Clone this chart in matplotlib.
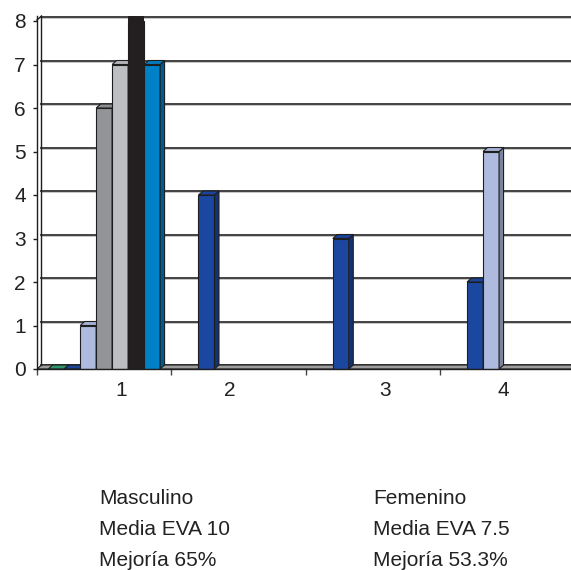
import numpy as np
import matplotlib; matplotlib.use("Agg")
import matplotlib.pyplot as plt
from matplotlib.colors import to_rgb

plt.rcParams["font.family"] = ["Liberation Sans", "DejaVu Sans"]

# data: 4 categories, 7 series (nan = no bar, 0 = flat bar drawn)
CATEGORIES = ["1", "2", "3", "4"]
S_GREEN     = [0, np.nan, np.nan, np.nan]
S_DARKBLUE  = [0, 4, 3, 2]
S_LIGHTBLUE = [1, np.nan, np.nan, 5]
S_GRAY      = [6, np.nan, np.nan, np.nan]
S_LIGHTGRAY = [7, np.nan, np.nan, np.nan]
S_BLACK     = [8, np.nan, np.nan, np.nan]
S_BLUE      = [7, np.nan, np.nan, np.nan]
SERIES = [S_GREEN, S_DARKBLUE, S_LIGHTBLUE, S_GRAY, S_LIGHTGRAY, S_BLACK, S_BLUE]
COLORS = ["#2f9e72", "#1c47a0", "#aebbdf", "#939498", "#bdbec2", "#231f20", "#0080c6"]
YTICKS = list(range(9))
LEFT_TXT = ["Masculino", "Media EVA 10", "Mejoría 65%"]
RIGHT_TXT = ["Femenino", "Media EVA 7.5", "Mejoría 53.3%"]

W, H = 571, 570
fig = plt.figure(figsize=(W/100, H/100), dpi=100)
ax = fig.add_axes([37/W, (H-369)/H, (W-37)/W, (369-16)/H])
xmax = 0.5 + (W-37)/134.3
ymax = (369-16)/43.5
ax.set_xlim(0.5, xmax); ax.set_ylim(0, ymax)
dx, dy = 4.5/134.3, 4/43.5   # 3-D depth offset in data units
EDGE = "#1e1e1e"

def shade(c, f):
    return tuple(np.clip(np.array(to_rgb(c))*f, 0, 1))

# back wall gridlines + floor
for v in YTICKS:
    ax.plot([0.5+dx, xmax], [v+dy, v+dy], color="#333333", lw=1.3, zorder=1, clip_on=False)
    ax.plot([0.5+dx, xmax], [v+dy-0.03, v+dy-0.03], color="#bdbdbd", lw=0.6, zorder=1)
ax.fill([0.5, xmax, xmax+dx, 0.5+dx], [0, 0, dy, dy], color="#9d9d9d", ec=EDGE, lw=0.8, zorder=2)
ax.plot([0.5+dx, 0.5+dx], [dy, ymax], color=EDGE, lw=1.0, zorder=2, clip_on=False)
ax.plot([0.5, 0.5+dx], [ymax-dy, ymax], color=EDGE, lw=1.0, zorder=2, clip_on=False)

# bars with pseudo 3-D faces
n = len(SERIES); bw = 0.119; off = (1 - n*bw)/2
xs = np.arange(1, len(CATEGORIES)+1)
for k, (vals, col) in enumerate(zip(SERIES, COLORS)):
    vals = np.array(vals, float)
    left = xs - 0.5 + off + k*bw
    ok = ~np.isnan(vals)
    z = 3 + k
    ax.bar(left[ok], vals[ok], width=bw, align="edge", color=col, ec=EDGE, lw=0.8, zorder=z)
    for x, v in zip(left[ok], vals[ok]):
        if v >= YTICKS[-1]:
            # bar reaches the wall top: clipped flat, no depth faces
            ax.fill([x, x, x+bw, x+bw], [v, ymax, ymax, v], color=col, lw=0, zorder=z)
            continue
        ax.fill([x+bw, x+bw+dx, x+bw+dx, x+bw], [0, dy, v+dy, v], color=shade(col, 0.7),
                ec=EDGE, lw=0.8, zorder=z)
        ax.fill([x, x+dx, x+bw+dx, x+bw], [v, v+dy, v+dy, v], color=shade(col, 0.95),
                ec=EDGE, lw=0.8, zorder=z)

# axes styling
for s in ["top", "right", "bottom"]:
    ax.spines[s].set_visible(False)
ax.spines["left"].set_color(EDGE); ax.spines["left"].set_linewidth(1.0)
ax.set_yticks(YTICKS)
ax.tick_params(axis="y", direction="out", length=3, width=1, color=EDGE, pad=5, labelsize=15, labelcolor="#222222")
ax.set_xticks([0.5, 1.5, 2.5, 3.5])
ax.set_xticklabels([])
ax.tick_params(axis="x", direction="out", length=4.5, width=1, color="#444444")
ax.plot([0.5, xmax], [0, 0], color=EDGE, lw=1.0, zorder=20, clip_on=False)
LABEL_X = [1.125, 1.937, 3.091, 3.97]
for lx, lab in zip(LABEL_X, CATEGORIES):
    ax.text(lx, -0.5, lab, ha="center", va="center", fontsize=15, color="#222222")

for i, (a, b) in enumerate(zip(LEFT_TXT, RIGHT_TXT)):
    yb = 1 - (504 + 31*i)/H
    fig.text(99/W, yb, a, fontsize=15, va="baseline", color="#222222")
    fig.text(373/W, yb, b, fontsize=15, va="baseline", color="#222222")

fig.savefig("out.png", dpi=100)
